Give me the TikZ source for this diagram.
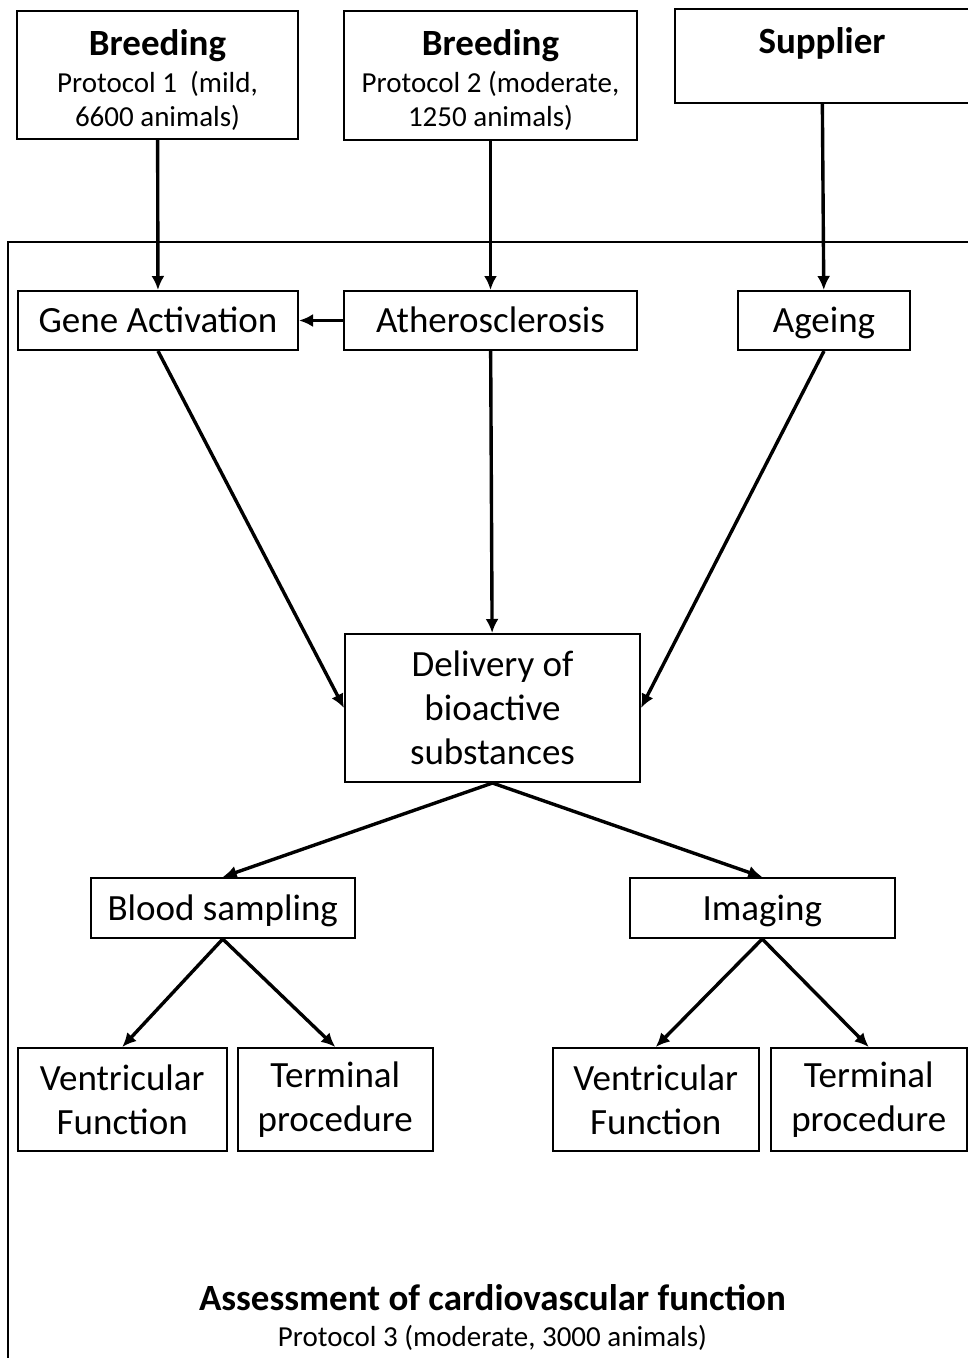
\documentclass[tikz,border=0pt]{standalone}
\usepackage{fontspec}
\setmainfont{Carlito}
\usepackage{tikz}
\usetikzlibrary{arrows.meta,positioning}
\newcommand{\boxfont}{\fontsize{37}{44}\selectfont}
\newcommand{\protofont}{\fontsize{29}{34}\selectfont}

\begin{document}
\begin{tikzpicture}[
  x=1pt, y=1pt,
  box/.style={draw, line width=2pt, inner sep=0pt, align=center, font=\boxfont},
  oneline/.style={text height=30pt, text depth=6pt},
  level 1/.style={sibling distance=539.5pt, level distance=200pt},
  level 2/.style={sibling distance=213pt, level distance=191.5pt},
  parent anchor=south, child anchor=north,
  edge from parent/.style={draw, line width=3.4pt, -{Latex[length=14pt,width=13pt]}},
  arrow/.style={line width=3.4pt, -{Latex[length=14pt,width=13pt]}}
]
\useasboundingbox (0,0) rectangle (967,-1358);

% sources
\node[box, font=\protofont, minimum width=281pt, minimum height=128pt] (breedA) at (157.5,-75)
  {{\boxfont\bfseries\rule{0pt}{36pt}Breeding}\\[3pt] Protocol 1~ (mild,\\ 6600 animals)};
\node[box, font=\protofont, minimum width=293pt, minimum height=129pt] (breedB) at (490.5,-75.5)
  {{\boxfont\bfseries\rule{0pt}{36pt}Breeding}\\[3pt] Protocol 2 (moderate,\\ 1250 animals)};
\node[box, font=\boxfont\bfseries, minimum width=294pt, minimum height=94pt,
  text height=24pt, text depth=30pt] (supplier) at (822,-56) {Supplier};

% protocol 3 frame
\draw[line width=2pt] (975,-242) -| (8,-1370);

\node[box, oneline, minimum width=280pt, minimum height=59pt] (gene) at (158,-320.5) {Gene Activation};
\node[box, oneline, minimum width=293pt, minimum height=59pt] (athero) at (490.5,-320.5) {Atherosclerosis};
\node[box, oneline, minimum width=172pt, minimum height=59pt] (ageing) at (824,-320.5) {Ageing};

\node[box, minimum width=295pt, minimum height=148pt] (deliv) at (492.5,-708)
  {Delivery of\\ bioactive\\ substances}
 child { node[box, oneline, minimum width=264pt, minimum height=60pt] (blood) {Blood sampling}
   child[xshift=6pt] { node[box, minimum width=209pt, minimum height=103pt] (ventA) {Ventricular\\ Function} }
   child[xshift=6pt] { node[box, minimum width=195pt, minimum height=103pt] (termA) {Terminal\\ procedure} }
 }
 child { node[box, oneline, minimum width=265pt, minimum height=60pt] (imaging) {Imaging}
   child { node[box, minimum width=206pt, minimum height=103pt] (ventB) {Ventricular\\ Function} }
   child { node[box, minimum width=196pt, minimum height=103pt] (termB) {Terminal\\ procedure} }
 };

\node[align=center, font=\protofont] (assess) at (492.5,-1317)
  {{\boxfont\bfseries Assessment of cardiovascular function}\\[2pt] Protocol 3 (moderate, 3000 animals)};

\draw[arrow] (breedA) -- (gene);
\draw[arrow] (breedB) -- (athero);
\draw[arrow] (supplier) -- (ageing);
\draw[arrow] (athero) -- (gene);
\draw[arrow] (gene.south) -- (deliv.west);
\draw[arrow] (athero) -- (deliv);
\draw[arrow] (ageing.south) -- (deliv.east);
\end{tikzpicture}
\end{document}
